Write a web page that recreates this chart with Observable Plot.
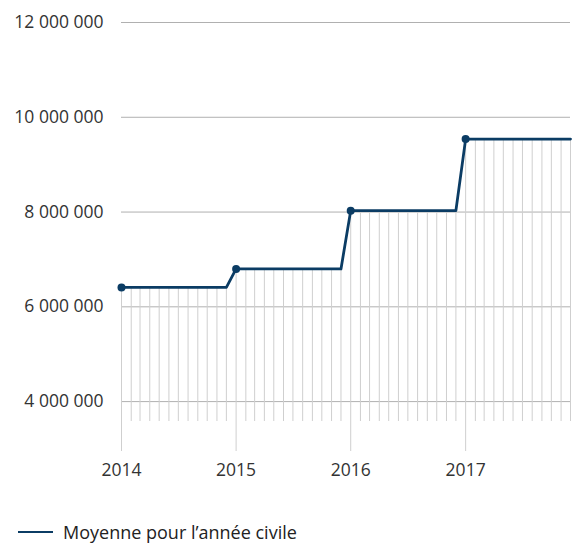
<!DOCTYPE html>
<html>
<head>
<meta charset="utf-8">
<script src="https://cdn.jsdelivr.net/npm/d3@7"></script>
<script src="https://cdn.jsdelivr.net/npm/@observablehq/plot@0.6"></script>
<style>
  html, body { margin: 0; padding: 0; background: #fff; }
  #chart { width: 576px; }
  .legend { display: flex; align-items: center; height: 30px; margin-top: 27px; font-family: "Open Sans", sans-serif; font-size: 18px; color: #222; }
  .legend .swatch { width: 35px; height: 0; border-top: 2.5px solid #0b3c64; margin-left: 18px; margin-right: 10px; }
</style>
</head>
<body>
<div id="chart"></div>
<script>
const years = [2014, 2015, 2016, 2017];
const annualAverage = [6410000, 6800000, 8030000, 9540000];
const yTicks = [4000000, 6000000, 8000000, 10000000, 12000000];
const legendLabel = "Moyenne pour l’année civile";

const monthly = [];
years.forEach((yr, i) => {
  for (let m = 0; m < 12; m++) monthly.push({date: new Date(Date.UTC(yr, m, 1)), value: annualAverage[i]});
});
const januaries = monthly.filter(d => d.date.getUTCMonth() === 0);
const yMin = 3580000;
const fmt = d => d3.format(",")(d).replace(/,/g, " ");

const plot = Plot.plot({
  width: 576,
  height: 490,
  marginLeft: 121,
  marginRight: 6,
  marginTop: 22,
  marginBottom: 69,
  style: {fontFamily: "'Open Sans', sans-serif", fontSize: "17.5px", color: "#333", background: "#fff"},
  x: {type: "utc", domain: [new Date(Date.UTC(2014, 0, 1)), new Date(Date.UTC(2017, 11, 1))], label: null},
  y: {domain: [yMin, 12000000], label: null},
  marks: [
    Plot.ruleY(yTicks, {stroke: "#b0b0b0", strokeWidth: 1}),
    Plot.ruleX(monthly, {x: "date", y1: yMin, y2: "value", stroke: "#cfcfcf", strokeWidth: 1}),
    Plot.axisY({ticks: yTicks, tickSize: 0, tickPadding: 18, tickFormat: fmt, fontSize: 17.5, fill: "#333", label: null}),
    Plot.axisX({ticks: years.map(y => new Date(Date.UTC(y, 0, 1))), tickSize: 30, tickPadding: 12, tickFormat: "%Y", stroke: "#cfcfcf", fontSize: 17.5, fill: "#333", label: null}),
    Plot.line(monthly, {x: "date", y: "value", stroke: "#0b3c64", strokeWidth: 2.8}),
    Plot.dot(januaries, {x: "date", y: "value", fill: "#0b3c64", r: 4})
  ]
});
document.getElementById("chart").appendChild(plot);

const legend = document.createElement("div");
legend.className = "legend";
legend.innerHTML = `<span class="swatch"></span><span></span>`;
legend.lastChild.textContent = legendLabel;
document.getElementById("chart").appendChild(legend);
</script>
</body>
</html>
